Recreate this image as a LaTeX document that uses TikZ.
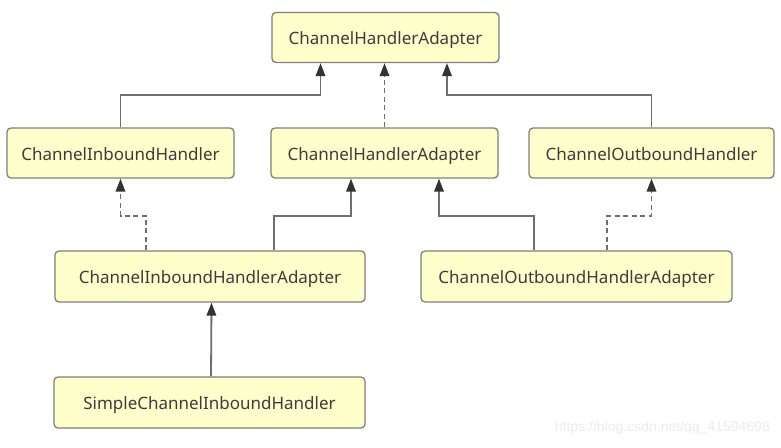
\documentclass[tikz,border=0pt]{standalone}
\usepackage{fontspec}
\setmainfont{Noto Sans}
\usetikzlibrary{arrows.meta,calc}
\definecolor{boxfill}{RGB}{255,255,204}
\definecolor{boxdraw}{RGB}{128,128,120}
\definecolor{txt}{RGB}{60,60,60}
\definecolor{linec}{RGB}{110,110,110}
\definecolor{wm}{RGB}{236,236,236}
\tikzset{
  cls/.style={draw=boxdraw, line width=1.3pt, fill=boxfill, rounded corners=4pt,
    text=txt, font=\fontsize{17}{19}\selectfont, minimum height=50pt, inner sep=0pt,
    text height=15pt, text depth=0.5pt},
  inh/.style={draw=linec, line width=1.8pt, -{Triangle[length=13pt,width=9.5pt,fill=black!80,color=black!80]}},
  impl/.style={inh, dash pattern=on 5pt off 3.5pt},
}
\begin{document}
\begin{tikzpicture}[x=1pt,y=-1pt]
\fill[white] (0,0) rectangle (781,447);
\useasboundingbox (0,0) rectangle (781,447);
\node[cls, minimum width=227pt] (top) at (385.5,37.5) {ChannelHandlerAdapter};
\node[cls, minimum width=227pt] (ih) at (120.5,153) {ChannelInboundHandler};
\node[cls, minimum width=227pt] (ha) at (384.5,153) {ChannelHandlerAdapter};
\node[cls, minimum width=245pt] (oh) at (651.5,153) {ChannelOutboundHandler};
\node[cls, minimum width=310pt, minimum height=51pt] (iha) at (210,276.5) {ChannelInboundHandlerAdapter};
\node[cls, minimum width=311pt, minimum height=51pt] (oha) at (576.5,276.5) {ChannelOutboundHandlerAdapter};
\node[cls, minimum width=311pt, minimum height=51pt] (sih) at (209.5,402.5) {SimpleChannelInboundHandler};

\draw[inh] (ih.north) |- ($([xshift=-65pt]top.south)+(0,31.5)$) -- ([xshift=-65pt]top.south);
\draw[impl] (ha.north) -- (ha.north |- top.south);
\draw[inh] (oh.north) |- ($([xshift=61.5pt]top.south)+(0,31.5)$) -- ([xshift=61.5pt]top.south);

\draw[impl] ([xshift=-64pt]iha.north) |- ($(ih.south)+(0,37)$) -- (ih.south);
\draw[inh] ([xshift=64pt]iha.north) |- ($([xshift=-33.5pt]ha.south)+(0,37)$) -- ([xshift=-33.5pt]ha.south);
\draw[inh] ([xshift=-42.5pt]oha.north) |- ($([xshift=54.5pt]ha.south)+(0,37)$) -- ([xshift=54.5pt]ha.south);
\draw[impl] ([xshift=30.5pt]oha.north) |- ($(oh.south)+(0,37)$) -- (oh.south);

\draw[inh] ([xshift=1.5pt]sih.north) -- ([xshift=1.5pt]iha.south);

\node[text=wm, font=\fontspec{Liberation Sans}\fontsize{14}{16}\selectfont, anchor=east, inner sep=0pt] (wmk) at (770,428) {https://blog.csdn.net/qq\_41594698};
\end{tikzpicture}
\end{document}
